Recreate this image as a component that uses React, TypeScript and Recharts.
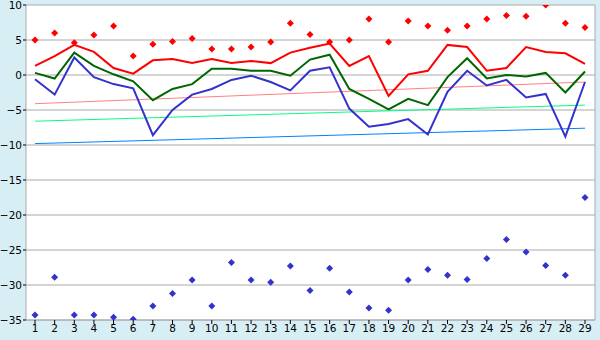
import { ComposedChart, Line, XAxis, YAxis, CartesianGrid } from 'recharts';

const days = ['1', '2', '3', '4', '5', '6', '7', '8', '9', '10', '11', '12', '13', '14', '15',
    '16', '17', '18', '19', '20', '21', '22', '23', '24', '25', '26', '27', '28', '29'];

const upper = [1.3, 2.7, 4.3, 3.3, 1.0, 0.2, 2.1, 2.3, 1.7, 2.3, 1.7, 2.0, 1.7, 3.2, 3.9,
    4.5, 1.3, 2.7, -3.0, 0.1, 0.6, 4.3, 4.0, 0.6, 1.0, 4.0, 3.3, 3.1, 1.6];
const middle = [0.3, -0.5, 3.2, 1.3, 0.1, -0.9, -3.6, -2.0, -1.3, 0.9, 0.9, 0.6, 0.6, -0.1, 2.2,
    2.9, -2.0, -3.4, -4.9, -3.4, -4.3, -0.3, 2.4, -0.5, 0.0, -0.2, 0.3, -2.5, 0.5];
const lower = [-0.6, -2.8, 2.5, -0.3, -1.3, -1.9, -8.6, -5.0, -2.8, -2.0, -0.7, -0.1, -1.0, -2.2, 0.6,
    1.1, -4.8, -7.4, -7.0, -6.3, -8.5, -2.4, 0.6, -1.5, -0.7, -3.2, -2.7, -8.8, -1.0];
const highs = [5.0, 6.0, 4.6, 5.7, 7.0, 2.7, 4.4, 4.8, 5.2, 3.7, 3.7, 4.0, 4.7, 7.4, 5.8,
    4.7, 5.0, 8.0, 4.7, 7.7, 7.0, 6.4, 7.0, 8.0, 8.5, 8.4, 10.0, 7.4, 6.8];
const lows = [-34.3, -28.9, -34.3, -34.3, -34.6, -34.9, -33.0, -31.2, -29.3, -33.0, -26.8, -29.3, -29.6, -27.3, -30.8,
    -27.6, -31.0, -33.3, -33.6, -29.3, -27.8, -28.6, -29.2, -26.2, -23.5, -25.3, -27.2, -28.6, -17.5];

// trend lines: value at first and last day
const trendUpper = [-4.1, -1.0];
const trendMiddle = [-6.6, -4.3];
const trendLower = [-9.8, -7.6];

const yTicks = [-35, -30, -25, -20, -15, -10, -5, 0, 5, 10];

const last = days.length - 1;
const ends = (t: number[], i: number) => (i === 0 ? t[0] : i === last ? t[1] : null);

const data = days.map((day, i) => ({
    day,
    upper: upper[i],
    middle: middle[i],
    lower: lower[i],
    high: highs[i],
    low: lows[i],
    tUpper: ends(trendUpper, i),
    tMiddle: ends(trendMiddle, i),
    tLower: ends(trendLower, i),
}));

const makeMarker = (color: string) => (props: any) => {
    const { cx, cy, index } = props;
    if (cx == null || cy == null) return <g key={index} />;
    const r = 3.5;
    return (
        <path
            key={index}
            d={`M${cx},${cy - r}L${cx + r},${cy}L${cx},${cy + r}L${cx - r},${cy}Z`}
            fill={color}
        />
    );
};

const fmt = (v: number) => String(v).replace('-', '\u2212');
const tickStyle = { fontSize: 10.5, fill: '#000', fontFamily: 'DejaVu Sans' };

export default function App() {
    return (
        <div style={{ position: 'absolute', left: 0, top: 0, width: 600, height: 340, background: '#d8eef5' }}>
            <ComposedChart width={600} height={340} data={data} margin={{ top: 5, right: 0, bottom: 0, left: 0 }}>
                <CartesianGrid vertical={false} stroke="#aaaaaa" fill="#ffffff" />
                <XAxis
                    dataKey="day"
                    height={20}
                    padding={{ left: 9, right: 10 }}
                    tick={tickStyle}
                    tickSize={4}
                    tickMargin={1}
                    tickLine={{ stroke: '#000' }}
                    axisLine={{ stroke: '#aaaaaa' }}
                    interval={0}
                />
                <YAxis
                    width={26}
                    domain={[-35, 10]}
                    ticks={yTicks}
                    tick={tickStyle}
                    tickFormatter={fmt}
                    tickSize={3}
                    tickMargin={1}
                    tickLine={{ stroke: '#000' }}
                    axisLine={{ stroke: '#aaaaaa' }}
                    allowDataOverflow
                />
                <YAxis
                    yAxisId="r"
                    orientation="right"
                    width={5}
                    domain={[0, 1]}
                    tick={false}
                    tickLine={false}
                    axisLine={{ stroke: '#aaaaaa' }}
                />
                <Line dataKey="tUpper" stroke="#ff8080" strokeWidth={1} dot={false} connectNulls isAnimationActive={false} />
                <Line dataKey="tMiddle" stroke="#00ff80" strokeWidth={1} dot={false} connectNulls isAnimationActive={false} />
                <Line dataKey="tLower" stroke="#0080ff" strokeWidth={1} dot={false} connectNulls isAnimationActive={false} />
                <Line dataKey="upper" stroke="#ff0000" strokeWidth={2} dot={false} isAnimationActive={false} />
                <Line dataKey="middle" stroke="#006600" strokeWidth={2} dot={false} isAnimationActive={false} />
                <Line dataKey="lower" stroke="#3333cc" strokeWidth={2} dot={false} isAnimationActive={false} />
                <Line dataKey="high" stroke="none" dot={makeMarker('#ff0000')} activeDot={false} isAnimationActive={false} />
                <Line dataKey="low" stroke="none" dot={makeMarker('#3333cc')} activeDot={false} isAnimationActive={false} />
            </ComposedChart>
        </div>
    );
}
